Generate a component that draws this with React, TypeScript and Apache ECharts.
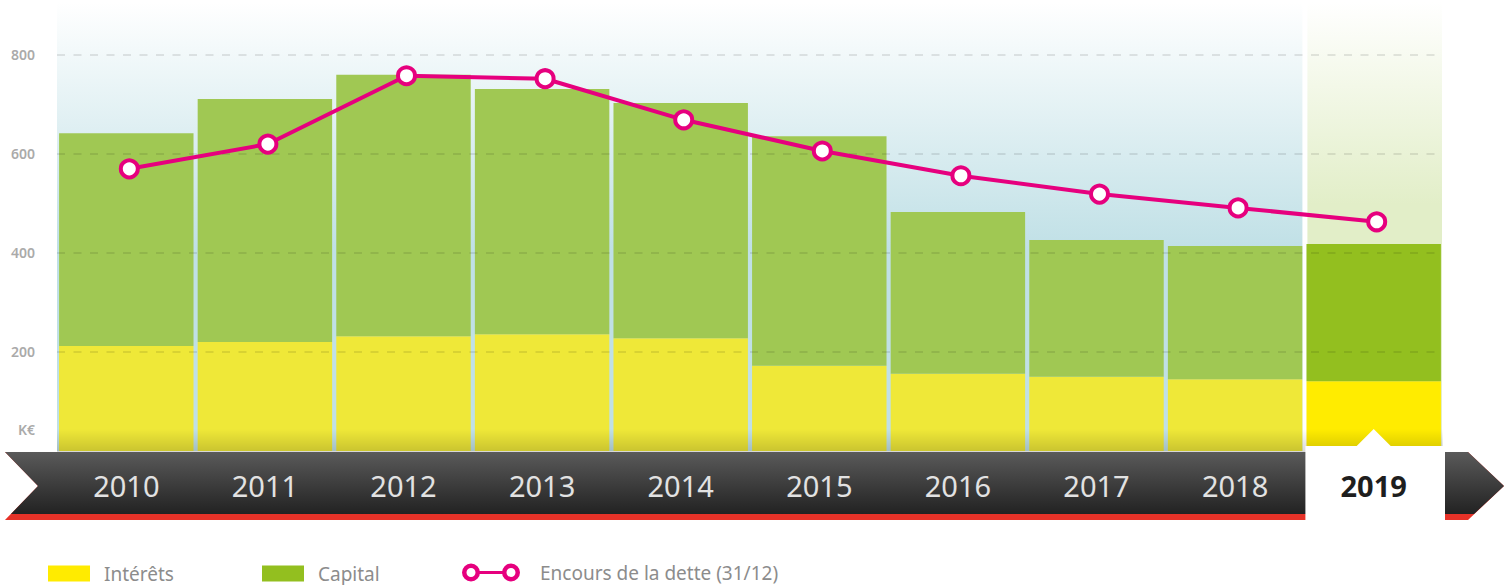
import React, { useEffect, useRef } from "react";
import * as echarts from "echarts";

const years = ["2010", "2011", "2012", "2013", "2014", "2015", "2016", "2017", "2018", "2019"];
const interets = [212, 220, 232, 236, 228, 172, 156, 150, 145, 141];
const capital = [430, 491, 528, 495, 475, 464, 327, 276, 269, 277];
const encours = [570, 620, 758, 752, 669, 606, 556, 519, 491, 463];
const yTicks = [200, 400, 600, 800];
const highlightYear = "2019";
const seriesNames = ["Intérêts", "Capital", "Encours de la dette (31/12)"];

const W = 1510;
const H = 585;
const GL = 57;
const GR = 1443;
const GB = 451;
const YMAX = 911;
const LINE_SHIFT = 3;
const FONT = "'Noto Sans', sans-serif";

const ringIcon =
  "path://M0,9 A9,9 0 1,1 18,9 A9,9 0 1,1 0,9 Z M4.5,9 A4.5,4.5 0 1,0 13.5,9 A4.5,4.5 0 1,0 4.5,9 Z " +
  "M17,7.5 L41,7.5 L41,10.5 L17,10.5 Z " +
  "M40,9 A9,9 0 1,1 58,9 A9,9 0 1,1 40,9 Z M44.5,9 A4.5,4.5 0 1,0 53.5,9 A4.5,4.5 0 1,0 44.5,9 Z";

export default function App() {
  const ref = useRef<HTMLDivElement>(null);
  useEffect(() => {
    if (!ref.current) return;
    const chart = echarts.init(ref.current, undefined, { renderer: "svg" });
    const hi = years.indexOf(highlightYear);
    const bw = (GR - GL) / years.length;
    const hiStart = GL + hi * bw;
    const lg = (c0: string, c1: string, stop = 0.5) =>
      new echarts.graphic.LinearGradient(0, 0, 0, 1, [
        { offset: 0, color: c0 },
        { offset: stop, color: c1 },
        { offset: 1, color: c1 },
      ]);
    const legendText = { fontSize: 19, color: "#8c8c8c", fontFamily: FONT };

    const option: any = {
      animation: false,
      textStyle: { fontFamily: FONT },
      grid: [
        { left: GL, right: W - GR, top: 0, bottom: H - GB, containLabel: false },
        { left: GL + LINE_SHIFT, right: W - GR - LINE_SHIFT, top: 0, bottom: H - GB, containLabel: false },
      ],
      xAxis: [
        {
          type: "category",
          gridIndex: 0,
          data: years,
          z: 10,
          axisLine: { show: false },
          axisTick: { show: false },
          axisLabel: {
            interval: 0,
            margin: 20,
            fontSize: 29,
            color: "#e2e2e2",
            fontFamily: FONT,
            formatter: (v: string) => (v === highlightYear ? `{b|${v}}` : v),
            rich: { b: { fontSize: 29, fontWeight: "bold", color: "#1e1e1e", fontFamily: FONT } },
          },
        },
        {
          type: "category",
          gridIndex: 1,
          data: years,
          show: false,
        },
      ],
      yAxis: [
        {
          type: "value",
          gridIndex: 0,
          min: 0,
          max: YMAX,
          interval: 200,
          z: 3,
          axisLine: { show: false },
          axisTick: { show: false },
          axisLabel: {
            margin: 22,
            fontSize: 14,
            fontWeight: 600,
            color: "#aaaaaa",
            fontFamily: FONT,
            formatter: (v: number) => (yTicks.includes(v) ? String(v) : ""),
          },
          splitLine: {
            show: true,
            showMinLine: false,
            showMaxLine: false,
            lineStyle: { color: "rgba(0,0,0,0.13)", width: 1.5, type: [8, 8.5] },
          },
        },
        {
          type: "value",
          gridIndex: 1,
          min: 0,
          max: YMAX,
          interval: 200,
          show: false,
          splitLine: { show: false },
        },
      ],
      legend: [
        {
          left: 48, top: 564, padding: 0, selectedMode: false,
          itemWidth: 42, itemHeight: 16,
          data: [{ name: seriesNames[0], icon: "rect", itemStyle: { color: "#ffeb00" } }],
          textStyle: { ...legendText, padding: [0, 0, 0, 9] },
        },
        {
          left: 262, top: 564, padding: 0, selectedMode: false,
          itemWidth: 42, itemHeight: 16,
          data: [{ name: seriesNames[1], icon: "rect", itemStyle: { color: "#93bf1f" } }],
          textStyle: { ...legendText, padding: [0, 0, 0, 9] },
        },
        {
          left: 462, top: 563, padding: 0, selectedMode: false,
          itemWidth: 58, itemHeight: 18,
          data: [{ name: seriesNames[2], icon: ringIcon, itemStyle: { color: "#e6007e", borderWidth: 0 } }],
          textStyle: { ...legendText, padding: [0, 0, 0, 15] },
        },
      ],
      series: [
        {
          name: seriesNames[0],
          type: "bar",
          stack: "total",
          barCategoryGap: "3%",
          itemStyle: { color: "#efe838" },
          data: interets.map((v, i) => (i === hi ? { value: v, itemStyle: { color: "#ffec00" } } : v)),
        },
        {
          name: seriesNames[1],
          type: "bar",
          stack: "total",
          barCategoryGap: "3%",
          itemStyle: { color: "#a0c853" },
          data: capital.map((v, i) => (i === hi ? { value: v, itemStyle: { color: "#93bf1f" } } : v)),
        },
        {
          name: seriesNames[2],
          type: "line",
          xAxisIndex: 1,
          yAxisIndex: 1,
          z: 5,
          symbol: "circle",
          symbolSize: 17,
          lineStyle: { color: "#e6007e", width: 4 },
          itemStyle: { color: "#ffffff", borderColor: "#e6007e", borderWidth: 4 },
          data: encours,
        },
      ],
      graphic: [
        {
          type: "rect", z: 0, silent: true,
          shape: { x: GL, y: 2, width: hiStart - GL - 2, height: GB - 2 },
          style: { fill: lg("#ffffff", "#c0e0e6", 0.55) },
        },
        {
          type: "rect", z: 0, silent: true,
          shape: { x: hiStart + 3, y: 2, width: GR - hiStart - 4, height: GB - 2 },
          style: { fill: lg("#ffffff", "#e2eec8", 0.45) },
        },
        {
          type: "rect", z: 4, silent: true,
          shape: { x: GL, y: GB - 22, width: GR - GL, height: 23 },
          style: {
            fill: new echarts.graphic.LinearGradient(0, 0, 0, 1, [
              { offset: 0, color: "rgba(0,0,0,0)" },
              { offset: 1, color: "rgba(0,0,0,0.16)" },
            ]),
          },
        },
        {
          type: "polygon", z: 6, silent: true,
          shape: { points: [[5, 452], [1468, 452], [1504, 486], [1468, 520], [5, 520], [38, 486]] },
          style: { fill: "#e63228" },
        },
        {
          type: "polygon", z: 7, silent: true,
          shape: { points: [[5, 452], [1468, 452], [1504, 486], [1474, 514], [11, 514], [38, 486]] },
          style: {
            fill: new echarts.graphic.LinearGradient(0, 0, 0, 1, [
              { offset: 0, color: "#5a5a5a" },
              { offset: 1, color: "#222222" },
            ]),
          },
        },
        {
          type: "rect", z: 8, silent: true,
          shape: { x: hiStart + 1, y: 446, width: bw + 1, height: 76 },
          style: { fill: "#ffffff" },
        },
        {
          type: "polygon", z: 8, silent: true,
          shape: { points: [[hiStart + bw / 2 - 18, 447], [hiStart + bw / 2, 429], [hiStart + bw / 2 + 18, 447]] },
          style: { fill: "#ffffff" },
        },
        {
          type: "text", z: 9, silent: true,
          x: 35, y: 429,
          style: {
            text: "K€", fill: "#aaaaaa", font: `600 14px ${FONT}`,
            align: "right", verticalAlign: "middle",
          },
        },
      ],
    };
    chart.setOption(option);
    return () => chart.dispose();
  }, []);
  return (
    <div
      ref={ref}
      style={{ position: "absolute", left: 0, top: 0, width: W, height: H, background: "#ffffff" }}
    />
  );
}
